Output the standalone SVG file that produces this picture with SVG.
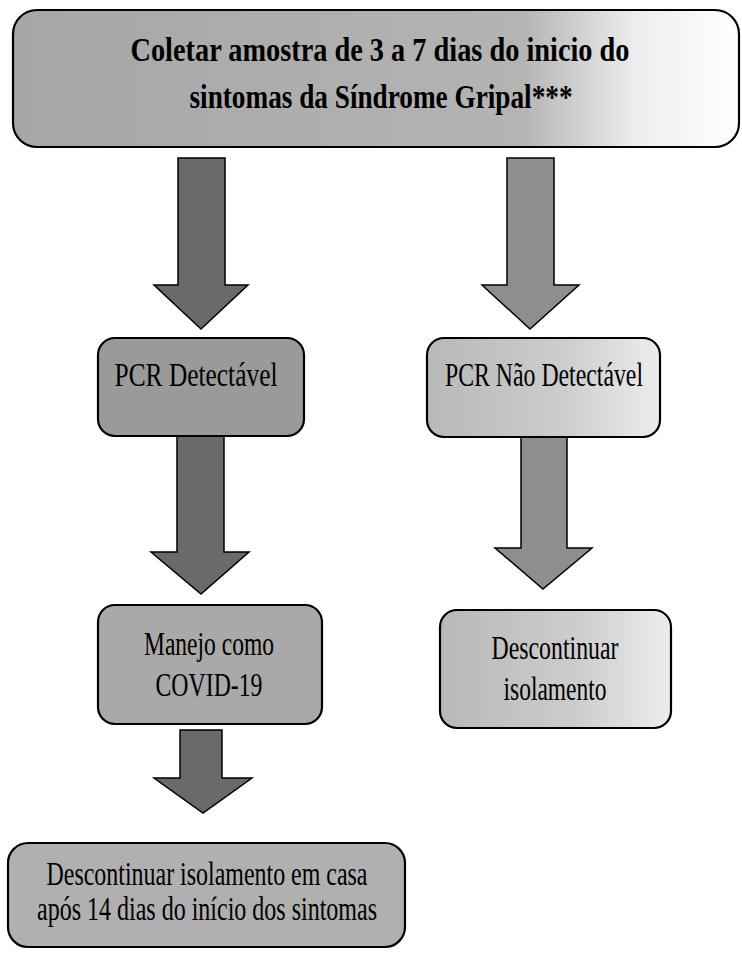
<svg xmlns="http://www.w3.org/2000/svg" width="742" height="954" viewBox="0 0 742 954">
<defs>
<linearGradient id="gTop" x1="0" y1="0" x2="1" y2="0">
<stop offset="0" stop-color="#a6a6a6"/>
<stop offset="0.7" stop-color="#b4b4b4"/>
<stop offset="0.86" stop-color="#eeeeee"/>
<stop offset="1" stop-color="#ffffff"/>
</linearGradient>
<linearGradient id="gLight" x1="0" y1="0" x2="1" y2="0">
<stop offset="0" stop-color="#b8b8b8"/>
<stop offset="0.6" stop-color="#cdcdcd"/>
<stop offset="1" stop-color="#ededed"/>
</linearGradient>
</defs>
<style>
.box{stroke:#000;stroke-width:2.2}
.dark{fill:#9a9a9a}
.mid{fill:#a9a9a9}
.light{fill:url(#gLight)}
.t{font-family:"Liberation Serif","Times New Roman",serif;font-size:34px;fill:#000;text-anchor:middle}
.tb{font-family:"Liberation Serif","Times New Roman",serif;font-size:33px;font-weight:bold;fill:#000;text-anchor:middle}
.arrL{fill:#6a6a6a;stroke:#000;stroke-width:1.5;stroke-linejoin:miter}
.arrR{fill:#8e8e8e;stroke:#000;stroke-width:1.5;stroke-linejoin:miter}
</style>
<rect width="742" height="954" fill="#fff"/>

<g id="connectors">
<polygon class="arrL" points="178,158 225,158 225,285 248,285 201,329 154,285 178,285"/>
<polygon class="arrR" points="507,158 554,158 554,285 579,285 530,329 482,285 507,285"/>
<polygon class="arrL" points="177,435 224,435 224,552 249,552 201,594 151,552 177,552"/>
<polygon class="arrR" points="521,430 567,430 567,548 592,548 543,589 495,548 521,548"/>
<polygon class="arrL" points="180,730 222,730 222,778 252,778 203,813 154,778 180,778"/>
</g>

<g id="node-top">
<rect class="box" x="13" y="10" width="726" height="137" rx="24" fill="url(#gTop)" stroke-width="2.5"/>
<text class="tb" x="380" y="61" textLength="499" lengthAdjust="spacingAndGlyphs">Coletar amostra de 3 a 7 dias do inicio do</text>
<text class="tb" x="381" y="108" textLength="383" lengthAdjust="spacingAndGlyphs">sintomas da Síndrome Gripal***</text>
</g>

<g id="node-pcr-det">
<rect class="box dark" x="98" y="338" width="206" height="98" rx="17"/>
<text class="t" x="196" y="386" textLength="163" lengthAdjust="spacingAndGlyphs">PCR Detectável</text>
</g>

<g id="node-pcr-nao">
<rect class="box light" x="427" y="338" width="233" height="99" rx="17"/>
<text class="t" x="544" y="386" textLength="198" lengthAdjust="spacingAndGlyphs">PCR Não Detectável</text>
</g>

<g id="node-manejo">
<rect class="box mid" x="98" y="605" width="224" height="119" rx="17"/>
<text class="t" x="209" y="655" textLength="130" lengthAdjust="spacingAndGlyphs">Manejo como</text>
<text class="t" x="209" y="696" textLength="107" lengthAdjust="spacingAndGlyphs">COVID-19</text>
</g>

<g id="node-descontinuar">
<rect class="box light" x="440" y="610" width="231" height="118" rx="17"/>
<text class="t" x="555" y="659" textLength="127" lengthAdjust="spacingAndGlyphs">Descontinuar</text>
<text class="t" x="555" y="700" textLength="103" lengthAdjust="spacingAndGlyphs">isolamento</text>
</g>

<g id="node-bottom">
<rect class="box" x="8" y="843" width="397" height="104" rx="20" fill="#b0b0b0"/>
<text class="t" x="207" y="885" textLength="321" lengthAdjust="spacingAndGlyphs">Descontinuar isolamento em casa</text>
<text class="t" x="207" y="920" textLength="340" lengthAdjust="spacingAndGlyphs">após 14 dias do início dos sintomas</text>
</g>
</svg>
